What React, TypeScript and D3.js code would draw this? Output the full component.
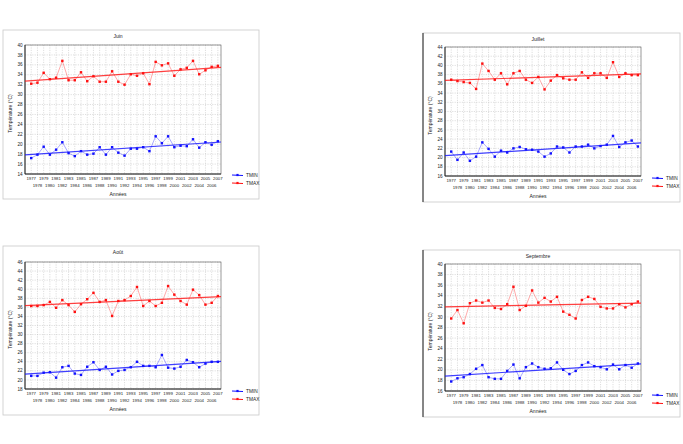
import React from 'react';
import * as d3 from 'd3';

const years = [1977,1978,1979,1980,1981,1982,1983,1984,1985,1986,1987,1988,1989,1990,1991,1992,1993,1994,1995,1996,1997,1998,1999,2000,2001,2002,2003,2004,2005,2006,2007];

const juinTmax = [32.2,32.4,34.4,33.1,33.4,36.8,32.9,32.9,34.5,32.7,33.7,32.6,32.6,34.7,32.6,32.0,34.1,33.8,34.3,32.1,36.6,35.9,36.3,33.8,35.1,35.4,36.8,34.1,34.9,35.6,35.8];
const juinTmin = [17.2,17.9,19.5,17.9,18.9,20.4,18.2,17.6,18.6,17.9,18.1,19.4,17.9,19.4,18.3,17.7,19.1,19.1,19.4,18.6,21.6,20.2,21.6,19.4,19.7,19.6,21.0,19.3,20.4,19.9,20.6];
const juilletTmax = [36.9,36.6,36.4,36.2,34.9,40.4,38.8,36.9,38.3,35.9,38.3,38.8,36.9,36.2,37.5,34.8,36.7,37.9,37.2,36.9,36.9,38.5,37.3,38.3,38.3,37.3,40.7,37.5,38.3,37.9,37.9];
const juilletTmin = [21.3,19.5,21.1,19.3,20.2,23.3,21.9,20.2,21.5,21.1,22.0,22.3,21.8,21.7,21.3,20.2,20.9,22.4,22.2,21.1,22.4,22.4,22.8,22.0,22.5,22.8,24.7,22.3,23.3,23.7,22.4];
const aoutTmax = [36.3,36.3,36.5,37.2,35.9,37.6,36.5,35.0,36.7,37.8,39.2,37.2,37.6,34.1,37.4,37.6,38.5,40.5,36.3,37.4,36.3,37.0,40.7,38.8,37.4,36.6,39.9,38.7,36.6,37.0,38.5];
const aoutTmin = [20.9,20.9,21.6,21.7,20.5,22.8,23.1,21.4,21.1,22.9,23.9,22.2,22.9,21.2,22.0,22.2,22.8,24.0,23.1,23.1,22.8,25.5,22.7,22.5,22.9,24.4,23.9,22.8,23.6,24.0,24.0];
const septTmax = [29.7,31.3,28.8,32.6,33.1,32.7,33.1,31.7,31.5,32.4,35.7,31.3,32.1,35.0,32.7,33.6,32.9,33.8,31.0,30.4,29.7,33.2,33.8,33.4,31.9,31.6,31.6,32.4,31.8,32.4,32.9];
const septTmin = [17.8,18.4,18.6,19.2,20.2,20.9,18.6,18.3,18.3,19.8,21.0,18.4,20.5,21.2,20.5,20.2,20.3,21.4,20.0,19.2,19.8,20.9,21.4,20.7,20.5,20.1,21.0,20.1,20.9,20.4,21.2];

const juinYTicks = [14,16,18,20,22,24,26,28,30,32,34,36,38,40];
const juilletYTicks = [16,18,20,22,24,26,28,30,32,34,36,38,40,42,44];
const aoutYTicks = [18,20,22,24,26,28,30,32,34,36,38,40,42,44,46];
const septYTicks = [16,18,20,22,24,26,28,30,32,34,36,38,40];

const seriesNames = ['TMIN', 'TMAX'];
const titles = ['Juin', 'Juillet', 'Août', 'Septembre'];
const xTitle = 'Années';
const yTitle = 'Température (°C)';

const BLUE = '#1010ff';
const RED = '#ff1010';
const FONT = 'Liberation Sans, Arial, sans-serif';

const panels = [
  { title: titles[0], tmax: juinTmax, tmin: juinTmin, yTicks: juinYTicks,
    frame: { x: 3, y: 30, w: 256, h: 169 }, plot: { x0: 25, x1: 221, y0: 45, y1: 174 }, darkLeft: false },
  { title: titles[1], tmax: juilletTmax, tmin: juilletTmin, yTicks: juilletYTicks,
    frame: { x: 423, y: 33, w: 257, h: 169 }, plot: { x0: 445, x1: 641, y0: 47, y1: 176 }, darkLeft: true },
  { title: titles[2], tmax: aoutTmax, tmin: aoutTmin, yTicks: aoutYTicks,
    frame: { x: 3, y: 246, w: 256, h: 169 }, plot: { x0: 25, x1: 221, y0: 262, y1: 389 }, darkLeft: false },
  { title: titles[3], tmax: septTmax, tmin: septTmin, yTicks: septYTicks,
    frame: { x: 423, y: 250, w: 257, h: 167 }, plot: { x0: 445, x1: 641, y0: 264, y1: 391 }, darkLeft: true },
];

function fit(xs: number[], ys: number[]) {
  const mx = d3.mean(xs) as number;
  const my = d3.mean(ys) as number;
  let num = 0, den = 0;
  xs.forEach((v, i) => { num += (v - mx) * (ys[i] - my); den += (v - mx) * (v - mx); });
  const b = num / den;
  const a = my - b * mx;
  return (v: number) => a + b * v;
}

function Panel({ p }: { p: any }) {
  const { frame, plot } = p;
  const x = d3.scaleLinear().domain([1976, 2007.5]).range([plot.x0, plot.x1]);
  const yMin = p.yTicks[0];
  const yMax = p.yTicks[p.yTicks.length - 1];
  const y = d3.scaleLinear().domain([yMin, yMax]).range([plot.y1, plot.y0]);
  const line = d3.line<number>().x((_, i) => x(years[i])).y((d) => y(d));
  const series = [
    { name: seriesNames[0], data: p.tmin, color: BLUE },
    { name: seriesNames[1], data: p.tmax, color: RED },
  ];
  const cx = (plot.x0 + plot.x1) / 2 - 5;
  const cy = (plot.y0 + plot.y1) / 2 + 4;
  return (
    <g>
      <rect x={frame.x} y={frame.y} width={frame.w} height={frame.h} fill="#fff" stroke="#c8c8c8" strokeWidth={0.8} />
      {p.darkLeft && <line x1={frame.x} x2={frame.x} y1={frame.y} y2={frame.y + frame.h} stroke="#222" strokeWidth={1} />}
      <text x={cx} y={frame.y + 7.5} fontSize={5} textAnchor="middle" fontFamily={FONT} fill="#222">{p.title}</text>
      {years.map((yr) => (
        <line key={'gx' + yr} x1={x(yr)} x2={x(yr)} y1={plot.y0} y2={plot.y1} stroke="#bdbdbd" strokeWidth={0.5} strokeDasharray="1.2,1.2" />
      ))}
      {p.yTicks.map((t: number) => (
        <line key={'gy' + t} x1={plot.x0} x2={plot.x1} y1={y(t)} y2={y(t)} stroke="#bdbdbd" strokeWidth={0.5} strokeDasharray="1.2,1.2" />
      ))}
      <rect x={plot.x0} y={plot.y0} width={plot.x1 - plot.x0} height={plot.y1 - plot.y0} fill="none" stroke="#555" strokeWidth={0.6} />
      <line x1={plot.x0} x2={plot.x0} y1={plot.y0} y2={plot.y1} stroke="#222" strokeWidth={0.9} />
      <line x1={plot.x0} x2={plot.x1} y1={plot.y1} y2={plot.y1} stroke="#222" strokeWidth={0.9} />
      {p.yTicks.map((t: number) => (
        <text key={'ty' + t} x={plot.x0 - 2.5} y={y(t) + 1.6} fontSize={4.6} textAnchor="end" fontFamily={FONT} fill="#222">{t}</text>
      ))}
      {years.map((yr, i) => (
        <text key={'tx' + yr} x={x(yr)} y={plot.y1 + (i % 2 === 0 ? 6 : 13)} fontSize={4.3} textAnchor="middle" fontFamily={FONT} fill="#222">{yr}</text>
      ))}
      <text x={cx} y={plot.y1 + 21.5} fontSize={5} textAnchor="middle" fontFamily={FONT} fill="#222">{xTitle}</text>
      <text transform={`translate(${frame.x + 8.5},${cy}) rotate(-90)`} fontSize={5} textAnchor="middle" fontFamily={FONT} fill="#222">{yTitle}</text>
      {series.map((s) => {
        const f = fit(years, s.data);
        return (
          <g key={s.name}>
            <path d={line(s.data) as string} fill="none" stroke={s.color} strokeWidth={0.6} strokeOpacity={0.6} />
            <line x1={plot.x0} x2={plot.x1} y1={y(f(1976))} y2={y(f(2007.5))} stroke={s.color} strokeWidth={1.2} strokeOpacity={0.8} />
            {s.data.map((v: number, i: number) => (
              <rect key={i} x={x(years[i]) - 1.2} y={y(v) - 1.2} width={2.4} height={2.4} fill={s.color} />
            ))}
          </g>
        );
      })}
      {series.map((s, i) => {
        const ly = frame.y + 145 + i * 8;
        const lx = frame.x + 229;
        return (
          <g key={'lg' + s.name}>
            <line x1={lx} x2={lx + 11} y1={ly} y2={ly + 0.5} stroke={s.color} strokeWidth={1} />
            <rect x={lx + 4.4} y={ly - 1.1} width={2.2} height={2.2} fill={s.color} />
            <text x={lx + 14} y={ly + 1.7} fontSize={4.8} fontFamily={FONT} fill="#222">{s.name}</text>
          </g>
        );
      })}
    </g>
  );
}

export default function App() {
  return (
    <svg width={683} height={444} viewBox="0 0 683 444" style={{ position: 'absolute', left: 0, top: 0, background: '#fff' }}>
      <rect x={0} y={0} width={683} height={444} fill="#fff" />
      {panels.map((p) => <Panel key={p.title} p={p} />)}
    </svg>
  );
}
